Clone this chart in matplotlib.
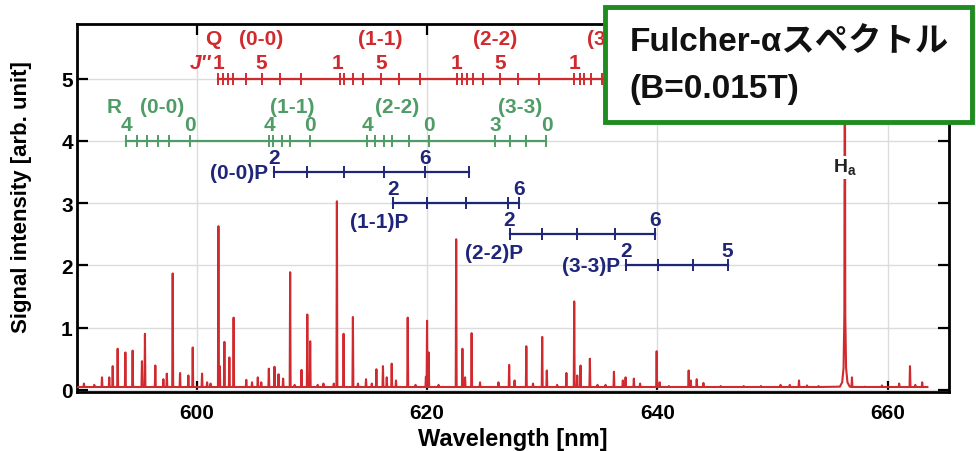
import matplotlib
matplotlib.use('Agg')
import matplotlib.pyplot as plt
from matplotlib.patches import Rectangle

plt.rcParams['font.family'] = ['Liberation Sans', 'Noto Sans CJK JP', 'DejaVu Sans']
plt.rcParams['font.weight'] = 'bold'
plt.rcParams['axes.labelweight'] = 'bold'

# spectrum: peak wavelength [nm] and intensity [arb. unit]
peak_wl = [590.2, 591.1, 591.77, 592.4, 592.7, 593.13, 593.8, 594.43, 595.24, 595.5,
           596.4, 597.1, 597.4, 597.91, 598.55, 599.27, 599.65, 600.46, 600.9, 601.2,
           601.88, 602.0, 602.4, 602.83, 603.2, 604.3, 604.8, 605.3, 605.6, 606.26,
           606.75, 607.1, 607.5, 608.11, 608.5, 609.1, 609.6, 609.85, 610.5, 611.0,
           611.9, 612.17, 612.75, 613.56, 614.0, 614.7, 615.2, 615.6, 616.17, 616.5,
           616.93, 617.3, 618.32, 619.0, 619.9, 620.0, 620.14, 621.0, 622.53, 623.07,
           623.3, 623.87, 624.6, 626.2, 627.13, 627.6, 628.62, 629.2, 630.0, 630.4,
           631.3, 632.1, 632.78, 633.04, 633.33, 634.14, 634.8, 635.5, 636.23, 637.0,
           637.24, 637.96, 638.5, 639.94, 640.2, 641.0, 642.72, 642.9, 643.42, 644.0,
           645.5, 647.5, 649.0, 650.7, 651.5, 652.3, 653.0, 654.0, 656.9, 658.0,
           659.5, 661.0, 661.94, 662.4, 663.0]
peak_int = [0.10, 0.08, 0.20, 0.20, 0.38, 0.66, 0.60, 0.63, 0.46, 0.90,
            0.39, 0.17, 0.26, 1.87, 0.27, 0.23, 0.68, 0.26, 0.12, 0.10,
            2.63, 0.38, 0.77, 0.52, 1.16, 0.16, 0.12, 0.20, 0.12, 0.34,
            0.37, 0.25, 0.18, 1.89, 0.08, 0.32, 1.21, 0.78, 0.08, 0.10,
            0.10, 3.03, 0.90, 1.17, 0.10, 0.17, 0.10, 0.33, 0.38, 0.20,
            0.42, 0.15, 1.16, 0.08, 0.21, 1.11, 0.60, 0.08, 2.42, 0.66,
            0.20, 0.91, 0.12, 0.12, 0.40, 0.15, 0.70, 0.10, 0.85, 0.31,
            0.08, 0.27, 1.42, 0.23, 0.39, 0.50, 0.08, 0.08, 0.29, 0.15,
            0.20, 0.18, 0.10, 0.62, 0.12, 0.06, 0.31, 0.15, 0.17, 0.11,
            0.06, 0.06, 0.06, 0.08, 0.08, 0.15, 0.07, 0.06, 0.20, 0.05,
            0.07, 0.10, 0.38, 0.08, 0.12]
spec_range = [589.6, 663.45]
baseline = 0.045
peak_halfwidth = 0.04

# H-alpha line profile (broadened)
ha_wl = [655.85, 656.05, 656.17, 656.24, 656.28, 656.32, 656.39, 656.51, 656.71]
ha_int = [0.05, 0.12, 0.35, 1.2, 7.5, 1.2, 0.35, 0.12, 0.05]

# Q branch (red)
q_ticks = [601.85, 602.3, 602.73, 603.17, 604.27, 605.64, 607.23, 609.03,
           612.4, 612.75, 613.6, 614.47, 616.03, 617.59, 619.42,
           622.58, 623.02, 623.45, 623.97, 624.9, 626.37, 627.9, 629.7,
           632.8, 633.24, 633.67, 634.2, 635.2, 636.6, 638.2, 640.0]
q_head = ['Q', '(0-0)', '(1-1)', '(2-2)', '(3-3)']
q_head_wl = [601.44, 605.57, 615.91, 625.94, 635.8]
q_num = ['1', '5', '1', '5', '1', '5', '1', '5']
q_num_wl = [601.85, 605.64, 612.25, 616.03, 622.58, 626.37, 632.8, 636.6]

# R branch (green)
r_ticks = [593.85, 594.79, 595.72, 596.65, 597.59, 599.45,
           606.31, 606.66, 607.39, 608.11, 609.85,
           614.78, 615.5, 616.23, 616.96, 618.4, 620.14,
           625.94, 627.18, 628.63, 630.37]
r_head = ['R', '(0-0)', '(1-1)', '(2-2)', '(3-3)']
r_head_wl = [592.84, 596.96, 608.26, 617.4, 628.1]
r_num = ['4', '0', '4', '0', '4', '0', '3', '0']
r_num_wl = [593.85, 599.45, 606.31, 609.85, 614.78, 620.14, 625.94, 630.37]

# P branches (navy)
p_names = ['(0-0)P', '(1-1)P', '(2-2)P', '(3-3)P']
p_levels = [3.5, 3.0, 2.5, 2.0]
p_ticks = [[606.72, 609.6, 612.77, 616.24, 619.85, 623.64],
           [617.02, 619.97, 623.37, 627.02, 628.0],
           [627.16, 629.97, 633.02, 636.35, 639.83],
           [637.3, 640.03, 643.07, 646.11]]
p_num = [['2', '6'], ['2', '6'], ['2', '6'], ['2', '5']]
p_num_wl = [[606.72, 619.85], [617.02, 628.0], [627.16, 639.83], [637.3, 646.11]]
p_name_wl = [606.2, 618.37, 628.37, 636.8]
p_name_y = [3.5, 2.7, 2.2, 2.0]

red = '#d02a2e'
green = '#4f9c66'
navy = '#1f2578'

fig = plt.figure(figsize=(9.76, 4.52), dpi=100)
ax = fig.add_axes([0.0789, 0.1299, 0.8937, 0.8148])

# build spectrum polyline from the peak list
pts = [(spec_range[0], baseline), (spec_range[1], baseline)]
for w, h in zip(peak_wl, peak_int):
    pts += [(w - peak_halfwidth, baseline), (w, h), (w + peak_halfwidth, baseline)]
pts += list(zip(ha_wl, ha_int))
pts.sort()
sx = [p[0] for p in pts]
sy = [p[1] for p in pts]
ax.plot(sx, sy, color=red, lw=1.5, zorder=3)

ax.text(656.28, 3.58, r'H$_\mathregular{a}$', ha='center', va='center', fontsize=14,
        color='#222222', bbox=dict(facecolor='white', edgecolor='none', pad=1), zorder=4)

# Q branch
ax.plot([q_ticks[0], q_ticks[-1]], [5, 5], color=red, lw=1.6, zorder=3)
ax.plot(q_ticks, [5] * len(q_ticks), ls='none', marker='|', ms=9, mew=1.4, color=red, zorder=3)
for s, w in zip(q_head, q_head_wl):
    ax.text(w, 5.65, s, ha='center', va='center', fontsize=15, color=red)
for s, w in zip(q_num, q_num_wl):
    ax.text(w, 5.26, s, ha='center', va='center', fontsize=15, color=red)
ax.text(601.3, 5.26, "J''", ha='right', va='center', fontsize=15, color=red, style='italic')

# R branch
ax.plot([r_ticks[0], r_ticks[-1]], [4, 4], color=green, lw=1.6, zorder=3)
ax.plot(r_ticks, [4] * len(r_ticks), ls='none', marker='|', ms=9, mew=1.4, color=green, zorder=3)
for s, w in zip(r_head, r_head_wl):
    ax.text(w, 4.56, s, ha='center', va='center', fontsize=15, color=green)
for s, w in zip(r_num, r_num_wl):
    ax.text(w, 4.26, s, ha='center', va='center', fontsize=15, color=green)

# P branches
for i in range(len(p_names)):
    lev = p_levels[i]
    ax.plot([p_ticks[i][0], p_ticks[i][-1]], [lev, lev], color=navy, lw=1.6, zorder=3)
    ax.plot(p_ticks[i], [lev] * len(p_ticks[i]), ls='none', marker='|', ms=9, mew=1.4,
            color=navy, zorder=3)
    for s, w in zip(p_num[i], p_num_wl[i]):
        ax.text(w, lev + 0.24, s, ha='center', va='center', fontsize=15, color=navy)
    ax.text(p_name_wl[i], p_name_y[i], p_names[i], ha='right', va='center', fontsize=15,
            color=navy)

ax.set_xlim(589.6, 665.35)
ax.set_ylim(-0.04, 5.88)
ax.set_xticks([600, 620, 640, 660])
ax.set_yticks([0, 1, 2, 3, 4, 5])
ax.grid(True, color='#dcdcdc', lw=1)
ax.set_axisbelow(True)
ax.tick_params(direction='in', length=8, width=1.6, labelsize=15, pad=3,
               top=True, right=True)
ax.tick_params(axis='x', pad=8)
for sp in ax.spines.values():
    sp.set_linewidth(2)

ax.set_xlabel('Wavelength [nm]', fontsize=17)
ax.xaxis.set_label_coords(0.5, -0.095)
ax.set_ylabel('Signal intensity [arb. unit]', fontsize=16)
ax.yaxis.set_label_coords(-0.052, 0.533)

fig.add_artist(Rectangle((0.62, 0.728), 0.376, 0.254, transform=fig.transFigure,
                         facecolor='white', edgecolor='#1e8c1e', lw=3.5, zorder=5))
fig.text(0.6455, 0.905, 'Fulcher-αスペクトル', fontsize=24, va='center', ha='left',
         color='#111111', zorder=6)
fig.text(0.6445, 0.803, '(B=0.015T)', fontsize=24, va='center', ha='left',
         color='#111111', zorder=6)

fig.savefig('out.png', dpi=100)
